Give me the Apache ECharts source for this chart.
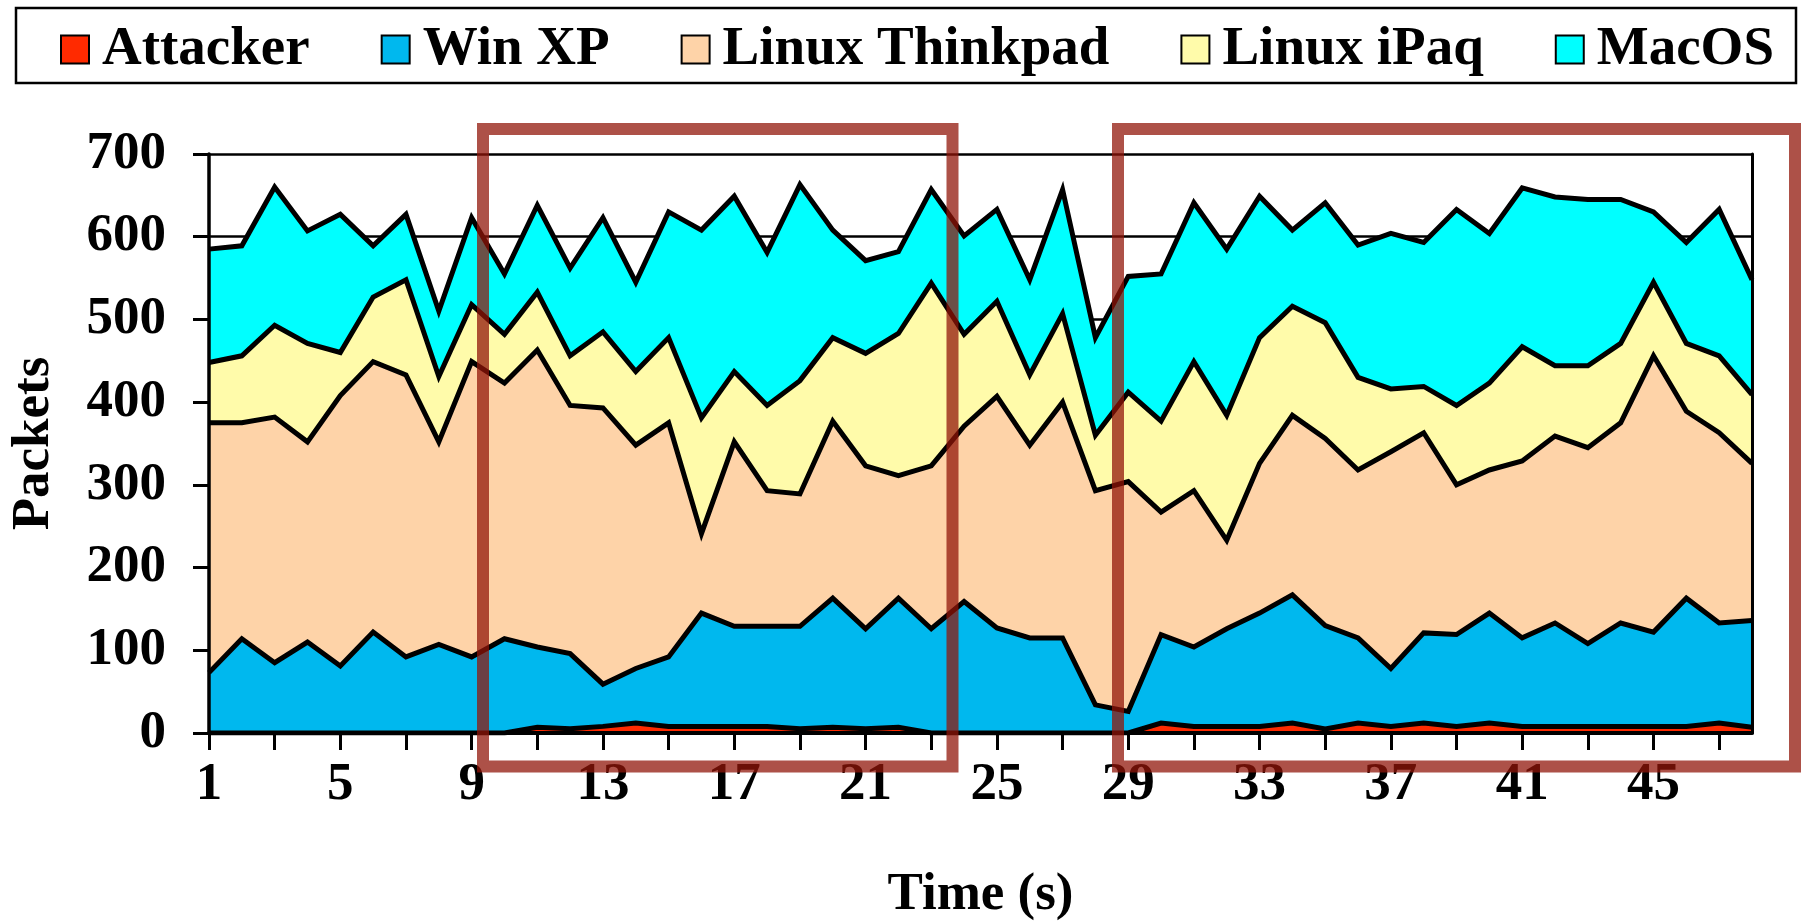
<!DOCTYPE html>
<html>
<head>
<meta charset="utf-8">
<title>Packets over time</title>
<script src="https://cdn.jsdelivr.net/npm/echarts@6/dist/echarts.min.js"></script>
<style>
html,body{margin:0;padding:0;background:#fff;}
#packetChart{width:1811px;height:923px;}
</style>
</head>
<body>
<div id="packetChart"></div>
<script>
/**
 * 各主机每秒包数 (堆叠面积图)
 */
var timeList = ['1','2','3','4','5','6','7','8','9','10','11','12','13','14','15','16',
	'17','18','19','20','21','22','23','24','25','26','27','28','29','30','31','32',
	'33','34','35','36','37','38','39','40','41','42','43','44','45','46','47','48'];
var attackerList = [0,0,0,0,0,0,0,0,0,0,7,5,8,12,8,8,8,8,5,7,5,7,0,0,
	0,0,0,0,0,12,8,8,8,12,5,12,8,12,8,12,8,8,8,8,8,8,12,7];
var winxpList = [73,114,85,110,81,122,92,107,92,114,97,91,51,66,84,137,121,121,124,156,121,156,126,159,
	127,115,115,34,26,107,96,118,137,155,125,103,70,109,111,133,107,125,100,125,114,155,121,129];
var thinkpadList = [302,261,297,242,327,327,341,245,357,309,359,300,334,270,283,96,223,164,160,214,197,148,197,212,
	280,233,285,259,278,148,189,107,181,217,226,203,262,242,181,173,214,226,237,242,334,226,230,190];
var ipaqList = [73,81,111,119,52,78,115,79,69,59,70,60,92,89,103,140,85,103,137,101,136,172,221,111,
	115,85,107,67,108,110,156,151,152,132,140,112,76,56,96,105,138,85,99,96,89,82,93,83];
var macosList = [137,133,167,136,167,62,79,79,105,73,105,106,138,108,152,227,212,185,237,130,112,99,113,119,
	111,115,150,118,140,178,192,201,171,92,145,160,188,174,237,181,192,204,201,174,85,122,177,139];
var yTicks = [0,100,200,300,400,500,600,700];

var hostNames = ['Attacker','Win XP','Linux Thinkpad','Linux iPaq','MacOS'];
var hostColors = ['#ff2a00','#00b8ee','#fed3a8','#fffbaa','#00ffff'];
var hostData = [attackerList, winxpList, thinkpadList, ipaqList, macosList];

var fontName = '"Liberation Serif", "Times New Roman", serif';
var boxColor = 'rgba(145,20,8,0.74)';

function buildSeries(){
	var list = [];
	// 面积
	for(var i=0;i<hostNames.length;i++){
		list.push({
			name: hostNames[i],
			type: 'line',
			stack: 'area',
			yAxisIndex: 0,
			color: hostColors[i],
			showSymbol: false,
			symbol: 'none',
			silent: true,
			z: 2,
			lineStyle: {width: 0, opacity: 0},
			areaStyle: {color: hostColors[i], opacity: 1},
			data: hostData[i]
		});
	}
	// 黑色边线, 画在所有面积之上
	for(var j=0;j<hostNames.length;j++){
		list.push({
			name: hostNames[j] + ' line',
			type: 'line',
			stack: 'edge',
			yAxisIndex: 0,
			showSymbol: false,
			symbol: 'none',
			silent: true,
			z: 3,
			lineStyle: {color: '#000', width: 5, join: 'miter'},
			data: hostData[j]
		});
	}
	return list;
}

var myChart = echarts.init(document.getElementById('packetChart'));
var option = {
	animation: false,
	backgroundColor: '#fff',
	textStyle: {fontFamily: fontName},
	legend: {
		data: hostNames,
		left: 55,
		top: 17,
		icon: 'rect',
		itemWidth: 28,
		itemHeight: 28,
		itemGap: 71,
		itemStyle: {borderColor: '#000', borderWidth: 2},
		textStyle: {
			fontFamily: fontName,
			fontWeight: 'bold',
			fontSize: 55,
			color: '#000',
			padding: [0,0,0,8]
		}
	},
	grid: {
		left: 209,
		right: 59,
		top: 154,
		bottom: 190,
		outerBoundsMode: 'none'
	},
	xAxis: {
		type: 'category',
		data: timeList,
		boundaryGap: false,
		z: 5,
		name: 'Time (s)',
		nameLocation: 'middle',
		nameGap: 136,
		nameTextStyle: {fontFamily: fontName, fontWeight: 'bold', fontSize: 53, color: '#000'},
		axisLine: {lineStyle: {color: '#000', width: 4}},
		axisTick: {interval: 1, length: 17, lineStyle: {color: '#000', width: 3}},
		axisLabel: {interval: 3, margin: 26, fontFamily: fontName, fontWeight: 'bold', fontSize: 53, color: '#000'},
		splitLine: {show: false}
	},
	yAxis: [{
		type: 'value',
		min: yTicks[0],
		max: yTicks[yTicks.length-1],
		interval: 100,
		z: 0,
		axisLine: {show: false},
		axisTick: {show: false},
		axisLabel: {show: false},
		splitLine: {show: true, lineStyle: {color: '#000', width: 2.5}}
	},{
		type: 'value',
		position: 'left',
		min: yTicks[0],
		max: yTicks[yTicks.length-1],
		interval: 100,
		z: 5,
		name: 'Packets',
		nameLocation: 'middle',
		nameGap: 148,
		nameTextStyle: {fontFamily: fontName, fontWeight: 'bold', fontSize: 53, color: '#000'},
		axisLine: {show: true, lineStyle: {color: '#000', width: 3.5}},
		axisTick: {show: true, length: 16, lineStyle: {color: '#000', width: 3}},
		axisLabel: {margin: 43, fontFamily: fontName, fontWeight: 'bold', fontSize: 53, color: '#000'},
		splitLine: {show: false}
	},{
		type: 'value',
		position: 'right',
		min: yTicks[0],
		max: yTicks[yTicks.length-1],
		interval: 100,
		z: 5,
		axisLine: {show: true, lineStyle: {color: '#000', width: 3}},
		axisTick: {show: false},
		axisLabel: {show: false},
		splitLine: {show: false}
	}],
	series: buildSeries(),
	graphic: [{
		// 图例外框
		type: 'rect',
		z: 100,
		silent: true,
		shape: {x: 16, y: 8, width: 1780, height: 75},
		style: {fill: 'none', stroke: '#000', lineWidth: 2.5}
	},{
		type: 'rect',
		z: 100,
		silent: true,
		shape: {x: 483, y: 129, width: 469.5, height: 637.5},
		style: {fill: 'none', stroke: boxColor, lineWidth: 12}
	},{
		type: 'rect',
		z: 100,
		silent: true,
		shape: {x: 1118, y: 129, width: 677, height: 637.5},
		style: {fill: 'none', stroke: boxColor, lineWidth: 12}
	}]
};
myChart.setOption(option);
</script>
</body>
</html>
